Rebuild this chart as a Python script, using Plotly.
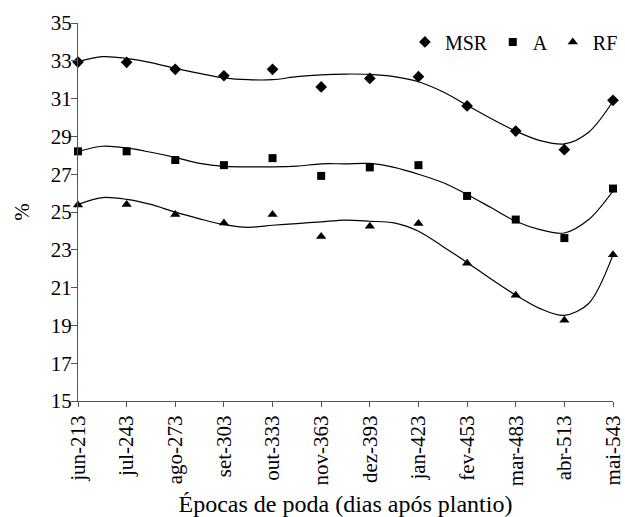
import plotly.graph_objects as go

categories = ["jun-213", "jul-243", "ago-273", "set-303", "out-333", "nov-363",
              "dez-393", "jan-423", "fev-453", "mar-483", "abr-513", "mai-543"]
msr = [32.93, 32.92, 32.55, 32.21, 32.55, 31.62, 32.07, 32.16, 30.61, 29.28, 28.3, 30.91]
a_vals = [28.21, 28.21, 27.75, 27.48, 27.85, 26.91, 27.36, 27.48, 25.85, 24.6, 23.62, 26.24]
rf = [25.37, 25.4, 24.87, 24.42, 24.87, 23.71, 24.25, 24.39, 22.29, 20.6, 19.27, 22.74]

# trend curves at every half category step
trend_x = [i / 2 for i in range(23)]
msr_trend = [32.96, 33.22, 33.13, 32.9, 32.6, 32.33, 32.1, 32.0, 32.0, 32.16, 32.26, 32.3,
             32.28, 32.16, 31.89, 31.36, 30.65, 29.93, 29.28, 28.78, 28.6, 29.22, 30.86]
a_trend = [28.2, 28.48, 28.39, 28.16, 27.89, 27.57, 27.41, 27.39, 27.39, 27.43, 27.55, 27.55,
           27.57, 27.36, 27.0, 26.56, 25.93, 25.22, 24.51, 24.07, 23.89, 24.6, 26.11]
rf_trend = [25.4, 25.76, 25.67, 25.4, 24.99, 24.64, 24.33, 24.19, 24.3, 24.39, 24.48, 24.57,
            24.51, 24.42, 23.98, 23.18, 22.33, 21.44, 20.6, 19.89, 19.53, 20.16, 22.73]
y_ticks = list(range(15, 36, 2))

FONT = "Liberation Serif, Times New Roman, Noto Serif, DejaVu Serif, serif"
x = list(range(len(categories)))

fig = go.Figure()
series = [("MSR", msr, msr_trend, "diamond", 9),
          ("A", a_vals, a_trend, "square", 8),
          ("RF", rf, rf_trend, "triangle-up", 9)]
for name, vals, trend, sym, sz in series:
    fig.add_trace(go.Scatter(x=trend_x, y=trend, mode="lines",
                             line=dict(color="black", width=1.2, shape="spline", smoothing=0.9),
                             showlegend=False, hoverinfo="skip", cliponaxis=False))
for name, vals, trend, sym, sz in series:
    fig.add_trace(go.Scatter(x=x, y=vals, mode="markers", name=name,
                             marker=dict(symbol=sym, size=sz, color="black"),
                             cliponaxis=False))

fig.update_layout(
    width=625, height=517,
    margin=dict(l=78, r=12, t=23, b=116, autoexpand=False),
    paper_bgcolor="white", plot_bgcolor="white",
    font=dict(family=FONT, size=21, color="black"),
    showlegend=True,
    legend=dict(orientation="h", x=0.611, y=0.95, xanchor="left", yanchor="middle",
                font=dict(family=FONT, size=20), bgcolor="rgba(0,0,0,0)",
                itemwidth=30, tracegroupgap=0),
)
fig.update_xaxes(range=[0, 11], tickmode="array", tickvals=x, ticktext=categories,
                 tickangle=-90, ticks="outside", ticklen=5, tickcolor="#555",
                 ticklabeloverflow="allow",
                 showline=True, linecolor="#555", linewidth=1, showgrid=False, zeroline=False,
                 tickfont=dict(family=FONT, size=21),
                 title=dict(text="Épocas de poda (dias após plantio)", font=dict(family=FONT, size=24), standoff=10))
fig.update_yaxes(range=[15, 35], tickmode="array", tickvals=y_ticks,
                 ticks="outside", ticklen=6, tickcolor="#555", ticklabelstandoff=-5,
                 showline=True, linecolor="#555", linewidth=1, showgrid=False, zeroline=False,
                 tickfont=dict(family=FONT, size=21),
                 title=dict(text="%", font=dict(family=FONT, size=21), standoff=15))

fig.write_html("out.html")
